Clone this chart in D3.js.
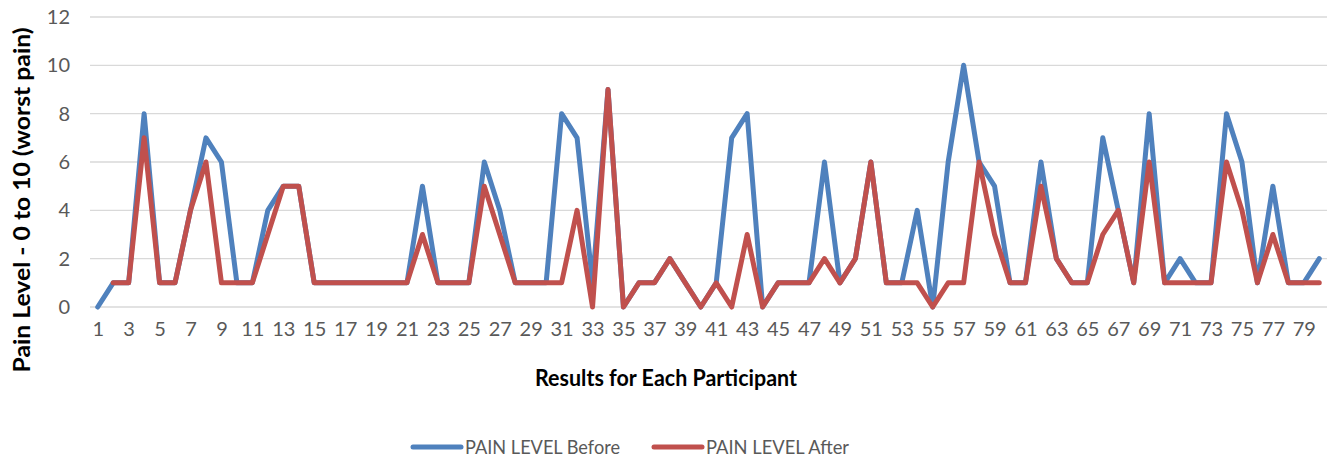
<!DOCTYPE html>
<html>
<head>
<meta charset="utf-8">
<script src="https://cdn.jsdelivr.net/npm/d3@7"></script>
<style>
    body { margin: 0; background: #fff; }
    svg { display: block; font-family: Lato, "Open Sans", sans-serif; }
</style>
</head>
<body>
<svg id="chart"></svg>
<script>
//  participants 1..80
const participants = d3.range(1, 81);

const painBefore = [0, 1, 1, 8, 1, 1, 4, 7, 6, 1,
    1, 4, 5, 5, 1, 1, 1, 1, 1, 1,
    1, 5, 1, 1, 1, 6, 4, 1, 1, 1,
    8, 7, 1, 9, 0, 1, 1, 2, 1, 0,
    1, 7, 8, 0, 1, 1, 1, 6, 1, 2,
    6, 1, 1, 4, 0, 6, 10, 6, 5, 1,
    1, 6, 2, 1, 1, 7, 4, 1, 8, 1,
    2, 1, 1, 8, 6, 1, 5, 1, 1, 2];

//  first participant has no "after" value
const painAfter = [null, 1, 1, 7, 1, 1, 4, 6, 1, 1,
    1, 3, 5, 5, 1, 1, 1, 1, 1, 1,
    1, 3, 1, 1, 1, 5, 3, 1, 1, 1,
    1, 4, 0, 9, 0, 1, 1, 2, 1, 0,
    1, 0, 3, 0, 1, 1, 1, 2, 1, 2,
    6, 1, 1, 1, 0, 1, 1, 6, 3, 1,
    1, 5, 2, 1, 1, 3, 4, 1, 6, 1,
    1, 1, 1, 6, 4, 1, 3, 1, 1, 1];

const yTicks = [0, 2, 4, 6, 8, 10, 12];
const seriesNames = ["PAIN LEVEL Before", "PAIN LEVEL After"];
const seriesColors = ["#4F81BD", "#C0504D"];

const W = 1335, H = 462;
const plot = {left: 90, right: 1327, top: 17, bottom: 307};

const paper = d3.select("#chart").attr("width", W).attr("height", H);

const x = d3.scalePoint()
    .domain(participants)
    .range([plot.left, plot.right])
    .padding(0.5);

const y = d3.scaleLinear()
    .domain([0, 12])
    .range([plot.bottom, plot.top]);

//  gridlines
paper.append("g")
    .selectAll("line")
    .data(yTicks)
    .join("line")
    .attr("x1", plot.left)
    .attr("x2", plot.right)
    .attr("y1", d => y(d))
    .attr("y2", d => y(d))
    .attr("stroke", "#d9d9d9")
    .attr("stroke-width", 1.3);

//  y axis labels
const yAxis = paper.append("g")
    .attr("transform", `translate(${plot.left}, 0)`)
    .call(d3.axisLeft(y).tickValues(yTicks).tickSize(0).tickPadding(20));
yAxis.select(".domain").remove();
yAxis.selectAll("text")
    .attr("fill", "#595959")
    .style("font-size", "20px")
    .style("font-family", "Lato, sans-serif");

//  x axis labels, every other participant
const xAxis = paper.append("g")
    .attr("transform", `translate(0, ${plot.bottom})`)
    .call(d3.axisBottom(x)
        .tickValues(participants.filter(p => p % 2 === 1))
        .tickSize(0)
        .tickPadding(15));
xAxis.select(".domain").remove();
xAxis.selectAll("text")
    .attr("fill", "#595959")
    .style("font-size", "20px")
    .style("font-family", "Lato, sans-serif");

//  series lines
const line = d3.line()
    .defined(d => d.v !== null)
    .x(d => x(d.p))
    .y(d => y(d.v));

const series = [painBefore, painAfter].map((vals, i) => ({
    name: seriesNames[i],
    color: seriesColors[i],
    points: vals.map((v, j) => ({p: participants[j], v}))
}));

paper.append("g")
    .selectAll("path")
    .data(series)
    .join("path")
    .attr("d", s => line(s.points))
    .attr("fill", "none")
    .attr("stroke", s => s.color)
    .attr("stroke-width", 5)
    .attr("stroke-linejoin", "round")
    .attr("stroke-linecap", "round");

//  axis titles
paper.append("text")
    .attr("x", 666)
    .attr("y", 386)
    .attr("text-anchor", "middle")
    .style("font-size", "22px")
    .style("font-weight", "bold")
    .attr("textLength", 262)
    .attr("lengthAdjust", "spacingAndGlyphs")
    .text("Results for Each Participant");

paper.append("text")
    .attr("transform", "translate(30, 200) rotate(-90)")
    .attr("text-anchor", "middle")
    .style("font-size", "23px")
    .style("font-weight", "bold")
    .attr("textLength", 345)
    .attr("lengthAdjust", "spacingAndGlyphs")
    .text("Pain Level - 0 to 10 (worst pain)");

//  legend
const legendX = [413, 654];
const legendW = [155, 143];
const legend = paper.append("g")
    .selectAll("g")
    .data(series)
    .join("g")
    .attr("transform", (s, i) => `translate(${legendX[i]}, 447)`);

legend.append("line")
    .attr("x1", 0)
    .attr("x2", 48)
    .attr("stroke", s => s.color)
    .attr("stroke-width", 5)
    .attr("stroke-linecap", "round");

legend.append("text")
    .attr("x", 52)
    .attr("y", 7)
    .attr("fill", "#595959")
    .style("font-size", "20px")
    .attr("textLength", (s, i) => legendW[i])
    .attr("lengthAdjust", "spacingAndGlyphs")
    .text(s => s.name);
</script>
</body>
</html>
